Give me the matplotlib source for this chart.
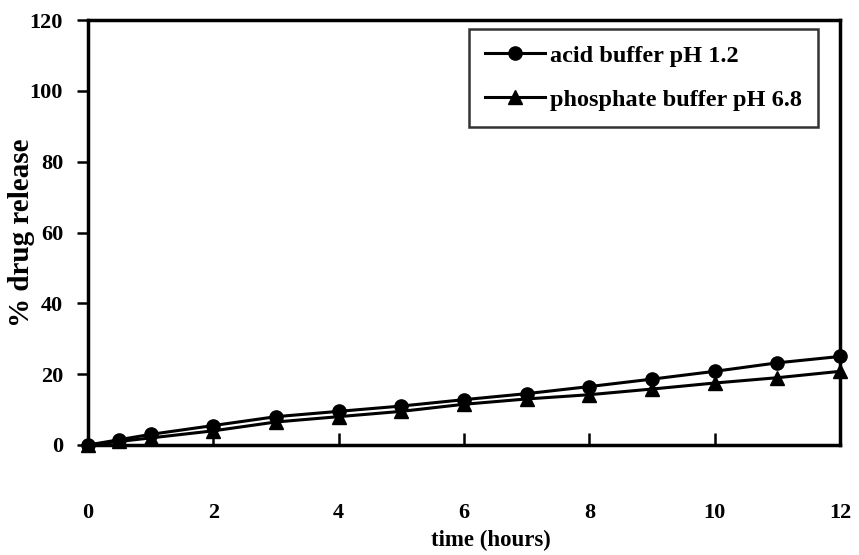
import matplotlib
matplotlib.use("Agg")
import matplotlib.pyplot as plt

# Dissolution profile data
time_h = [0, 0.5, 1, 2, 3, 4, 5, 6, 7, 8, 9, 10, 11, 12]
acid_release = [0, 1.5, 3, 5.5, 8, 9.5, 11, 12.8, 14.5, 16.5, 18.6, 20.8, 23.2, 25]
phosphate_release = [0, 1, 2, 4, 6.5, 8, 9.5, 11.5, 13, 14.2, 15.8, 17.5, 19, 20.8]
x_ticks = [0, 2, 4, 6, 8, 10, 12]
y_ticks = [0, 20, 40, 60, 80, 100, 120]

plt.rcParams["font.family"] = ["Liberation Serif", "DejaVu Serif"]
plt.rcParams["font.weight"] = "bold"

W, H = 859, 555
fig = plt.figure(figsize=(W / 100, H / 100), dpi=100)
left, right, top, bottom = 88, 840, 20, 445
ax = fig.add_axes([left / W, 1 - bottom / H, (right - left) / W, (bottom - top) / H])

ax.plot(time_h, acid_release, color="black", lw=2.2, marker="o", ms=9.5,
        label="acid buffer pH 1.2", clip_on=False, zorder=3)
ax.plot(time_h, phosphate_release, color="black", lw=2.2, marker="^", ms=9.5,
        label="phosphate buffer pH 6.8", clip_on=False, zorder=3)

ax.set_xlim(0, 12)
ax.set_ylim(0, 120)
ax.set_xticks(x_ticks)
ax.set_yticks(y_ticks)
ax.tick_params(axis="x", direction="in", length=8.5, width=1.8, pad=42, labelsize=16)
ax.tick_params(axis="y", direction="out", length=8, width=1.8, pad=10, labelsize=16)
for lbl in ax.get_xticklabels() + ax.get_yticklabels():
    lbl.set_fontweight("bold")
for s in ax.spines.values():
    s.set_linewidth(2.5)

ax.set_xlabel("time (hours)", fontsize=16.5, fontweight="bold",
              ha="center", va="center")
ax.xaxis.set_label_coords((491 - left) / (right - left), -(540 - bottom) / (bottom - top))
ax.set_ylabel("% drug release", fontsize=21, fontweight="bold",
              ha="center", va="center")
ax.yaxis.set_label_coords((22 - left) / (right - left), 0.5)

leg = ax.legend(loc="upper right", bbox_to_anchor=(818 / W, 1 - 29 / H),
                bbox_transform=fig.transFigure, fontsize=17.5, frameon=True,
                fancybox=False, edgecolor="black", handlelength=2.5,
                labelspacing=0.9, borderpad=0.65, handletextpad=0.2,
                borderaxespad=0)
leg.get_frame().set_linewidth(1.8)
for t in leg.get_texts():
    t.set_fontweight("bold")

fig.savefig("out.png", dpi=100)
